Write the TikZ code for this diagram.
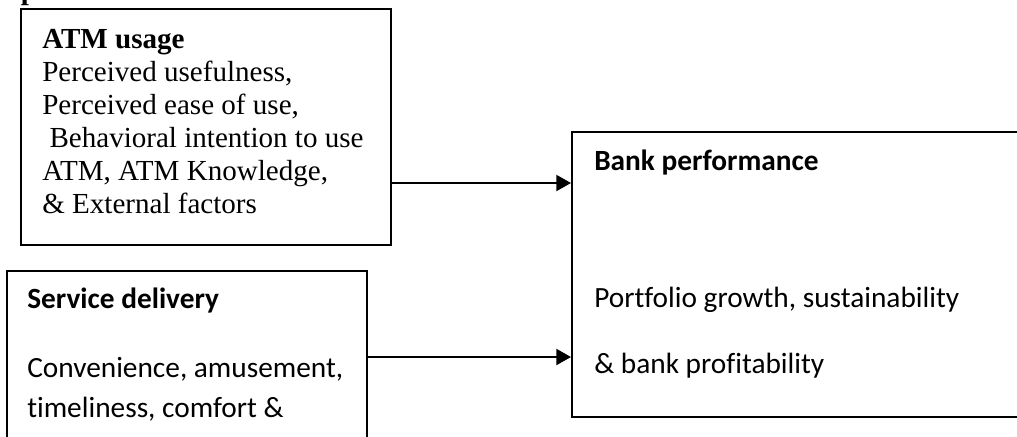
\documentclass[tikz,border=0pt]{standalone}
\usepackage{fontspec}
\setmainfont{Liberation Serif}
\newfontfamily\calibri[Ligatures=NoCommon]{Carlito}
\usetikzlibrary{arrows.meta}

\begin{document}
\begin{tikzpicture}[x=0.75pt, y=-0.75pt,
		frame/.style={draw, line width=1.5pt, inner sep=0pt},
		serif/.style={anchor=base west, inner sep=0pt, align=left, font=\fontsize{21.8}{24.75}\selectfont},
		sans/.style={anchor=base west, inner sep=0pt, align=left, font=\calibri\fontsize{22}{30}\selectfont},
		link/.style={line width=1.5pt, -{Triangle[length=11pt, width=12pt]}}]
		\clip (0,0) rectangle (1017,436);
		
		\node[serif, font=\bfseries\fontsize{21.8}{24.75}\selectfont] (title) at (-57,-1) {Conceptual Framework};
		
		\node[frame, minimum width=277.5pt, minimum height=177pt] (atm) at (206,127) {};
		\node[frame, minimum width=270pt, minimum height=149.25pt] (service) at (187,370.5) {};
		\node[frame, minimum width=366pt, minimum height=213.75pt] (bank) at (816,274.5) {};
		
		% multi-line nodes sit on the baseline of their last line
		\node[serif] (atmtext) at (42,213) {\textbf{ATM usage}\\ Perceived usefulness,\\ Perceived ease of use,\\ \hspace{0.25em}Behavioral intention to use\\ ATM, ATM Knowledge,\\ \& External factors};
		\node[sans] (servicetext) at (27,417) {\textbf{Service delivery}\\[21.75pt] Convenience, amusement,\\ timeliness, comfort \&};
		\node[sans] (banktext) at (594,373) {\textbf{Bank performance}\\[72.75pt] Portfolio growth, sustainability\\[19.5pt] \& bank profitability};
		
		\foreach \a\y in {atm/183, service/357}
		\draw[link] (\a.east |- 0,\y) -- (bank.west |- 0,\y);
	\end{tikzpicture}
\end{document}
